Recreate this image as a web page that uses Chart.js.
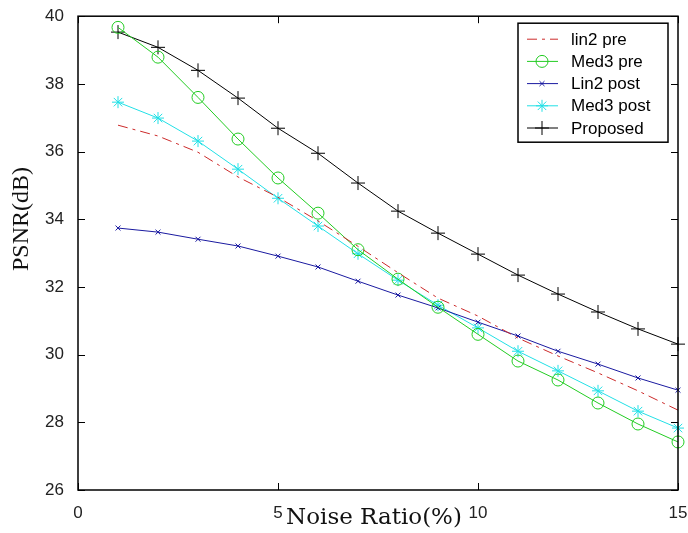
<!DOCTYPE html>
<html lang="en">
<head>
<meta charset="UTF-8" />
<title>PSNR vs Noise Ratio</title>
<script src="https://cdn.jsdelivr.net/npm/chart.js"></script>
<style>
  html, body { margin: 0; padding: 0; background: #fff; }
  #wrap { width: 688px; height: 533px; }
</style>
</head>
<body>
<div id="wrap"><canvas id="psnrChart" width="688" height="533"></canvas></div>
<script>
// ── data ─────────────────────────────────────────────────
const noiseRatio = [1, 2, 3, 4, 5, 6, 7, 8, 9, 10, 11, 12, 13, 14, 15];
const lin2Pre   = [36.78, 36.46, 35.98, 35.25, 34.65, 33.95, 33.2, 32.42, 31.67, 31.14, 30.49, 29.96, 29.46, 28.93, 28.36];
const med3Pre   = [39.67, 38.79, 37.6, 36.37, 35.22, 34.18, 33.1, 32.23, 31.4, 30.6, 29.81, 29.25, 28.57, 27.95, 27.42];
const lin2Post  = [33.74, 33.62, 33.41, 33.21, 32.91, 32.59, 32.17, 31.76, 31.38, 30.96, 30.55, 30.1, 29.72, 29.31, 28.95];
const med3Post  = [37.46, 36.99, 36.31, 35.48, 34.62, 33.8, 32.98, 32.2, 31.46, 30.79, 30.1, 29.52, 28.93, 28.33, 27.83];
const proposed  = [39.53, 39.08, 38.4, 37.58, 36.69, 35.95, 35.07, 34.24, 33.59, 32.97, 32.35, 31.79, 31.26, 30.76, 30.31];

const xTicks = [0, 5, 10, 15];
const yTicks = [26, 28, 30, 32, 34, 36, 38, 40];

const xTitle = 'Noise Ratio(%)';
const yTitle = 'PSNR(dB)';

const pts = ys => noiseRatio.map((x, i) => ({ x, y: ys[i] }));

// box + inward tick marks on all four sides, matlab style
const matlabFrame = {
  id: 'matlabFrame',
  afterDatasetsDraw(chart) {
    const { ctx, chartArea: a, scales: { x, y } } = chart;
    const len = 7;
    ctx.save();
    ctx.strokeStyle = '#000';
    ctx.lineWidth = 1.5;
    ctx.strokeRect(a.left, a.top, a.right - a.left, a.bottom - a.top);
    ctx.lineWidth = 1;
    ctx.beginPath();
    x.ticks.forEach(t => {
      const px = Math.round(x.getPixelForValue(t.value)) + 0.5;
      ctx.moveTo(px, a.bottom); ctx.lineTo(px, a.bottom - len);
      ctx.moveTo(px, a.top); ctx.lineTo(px, a.top + len);
    });
    y.ticks.forEach(t => {
      const py = Math.round(y.getPixelForValue(t.value)) + 0.5;
      ctx.moveTo(a.left, py); ctx.lineTo(a.left + len, py);
      ctx.moveTo(a.right, py); ctx.lineTo(a.right - len, py);
    });
    ctx.stroke();
    ctx.restore();
  }
};

// axis titles
const axisTitles = {
  id: 'axisTitles',
  afterDraw(chart) {
    const { ctx, chartArea: a } = chart;
    ctx.save();
    ctx.fillStyle = '#111';
    ctx.textAlign = 'center';
    ctx.textBaseline = 'middle';
    ctx.font = '23px "DejaVu Serif"';
    ctx.fillText(xTitle, (a.left + a.right) / 2 - 4, 518);
    ctx.translate(22, 219);
    ctx.rotate(-Math.PI / 2);
    ctx.font = '24px "Liberation Serif"';
    ctx.fillText(yTitle, 0, 0);
    ctx.restore();
  }
};

// boxed legend inside the top-right corner
const boxLegend = {
  id: 'boxLegend',
  afterDraw(chart) {
    const { ctx, chartArea: a } = chart;
    const bx = a.right - 160, by = a.top + 7, bw = 150, bh = 119;
    ctx.save();
    ctx.fillStyle = '#fff';
    ctx.fillRect(bx, by, bw, bh);
    ctx.strokeStyle = '#000';
    ctx.lineWidth = 1.5;
    ctx.strokeRect(bx, by, bw, bh);
    ctx.font = '17px "Liberation Sans"';
    ctx.textBaseline = 'middle';
    chart.data.datasets.forEach((ds, i) => {
      const cy = by + 16 + i * 22.2;
      ctx.strokeStyle = ds.borderColor;
      ctx.lineWidth = ds.borderWidth;
      ctx.setLineDash(ds.borderDash || []);
      ctx.beginPath();
      ctx.moveTo(bx + 9, cy); ctx.lineTo(bx + 40, cy);
      ctx.stroke();
      ctx.setLineDash([]);
      if (ds.pointRadius > 0) {
        ctx.fillStyle = 'rgba(0,0,0,0)';
        Chart.helpers.drawPoint(ctx, {
          pointStyle: ds.pointStyle, radius: ds.pointRadius,
          borderWidth: ds.pointBorderWidth || 1, rotation: 0
        }, bx + 24, cy);
      }
      ctx.fillStyle = '#000';
      ctx.fillText(ds.label, bx + 53, cy + 1);
    });
    ctx.restore();
  }
};

const line = (label, ys, color, extra) => Object.assign({
  label,
  data: pts(ys),
  borderColor: color,
  backgroundColor: 'transparent',
  pointBorderColor: color,
  pointBackgroundColor: 'transparent',
  borderWidth: 1,
  pointBorderWidth: 1,
  tension: 0,
  clip: false
}, extra);

new Chart(document.getElementById('psnrChart'), {
  type: 'line',
  data: {
    datasets: [
      line('lin2 pre', lin2Pre, '#cc2a2a', { pointRadius: 0, borderDash: [10, 5, 3, 5] }),
      line('Med3 pre', med3Pre, '#22cc22', { pointStyle: 'circle', pointRadius: 6 }),
      line('Lin2 post', lin2Post, '#1a1aa0', { pointStyle: 'crossRot', pointRadius: 3.5 }),
      line('Med3 post', med3Post, '#22e0e6', { pointStyle: 'star', pointRadius: 6 }),
      line('Proposed', proposed, '#000000', { pointStyle: 'cross', pointRadius: 7 })
    ]
  },
  options: {
    responsive: false,
    devicePixelRatio: 1,
    animation: false,
    layout: { padding: { top: 16, right: 0, left: 0, bottom: 0 } },
    plugins: { legend: { display: false }, tooltip: { enabled: false } },
    scales: {
      x: {
        type: 'linear',
        min: 0, max: 15,
        afterBuildTicks: s => { s.ticks = xTicks.map(v => ({ value: v })); },
        afterFit: s => { s.height = 43; s.paddingRight = 10; },
        grid: { display: false },
        border: { display: false },
        ticks: { color: '#222', padding: 5, font: { family: 'Liberation Sans', size: 17 } }
      },
      y: {
        min: 26, max: 40,
        afterBuildTicks: s => { s.ticks = yTicks.map(v => ({ value: v })); },
        afterFit: s => { s.width = 78; },
        grid: { display: false },
        border: { display: false },
        ticks: { color: '#222', padding: 6, font: { family: 'Liberation Sans', size: 17 } }
      }
    }
  },
  plugins: [matlabFrame, axisTitles, boxLegend]
});
</script>
</body>
</html>
